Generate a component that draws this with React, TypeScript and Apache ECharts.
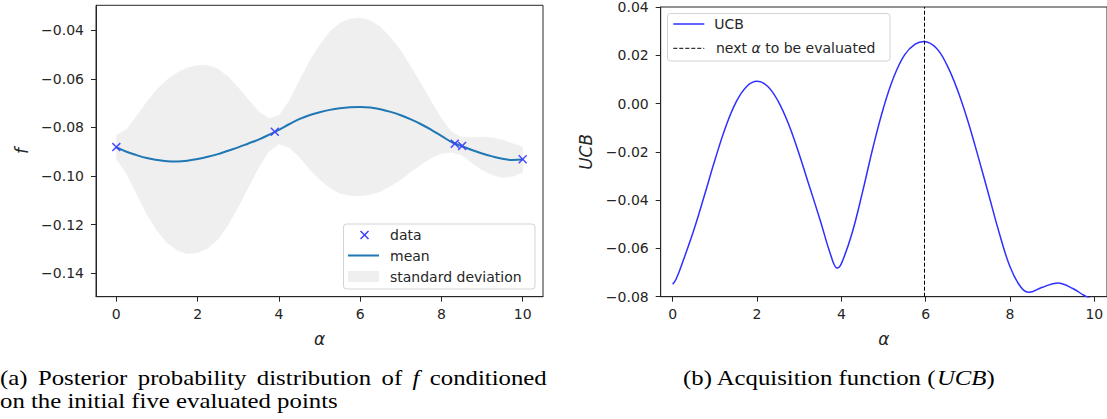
import React, { useEffect, useRef } from "react";
import * as echarts from "echarts";

// ---------- Left panel: GP posterior ----------
const meanAlpha = [0, 0.25, 0.5, 0.75, 1, 1.25, 1.5, 1.75, 2, 2.25, 2.5, 2.75, 3, 3.25, 3.5, 3.75, 4, 4.25, 4.5, 4.75, 5, 5.25, 5.5, 5.75, 6, 6.25, 6.5, 6.75, 7, 7.25, 7.5, 7.75, 8, 8.25, 8.5, 8.75, 9, 9.25, 9.5, 9.75, 10];
const meanF = [-0.0881, -0.09, -0.0914, -0.0926, -0.0934, -0.0939, -0.094, -0.0937, -0.093, -0.0921, -0.091, -0.0896, -0.0882, -0.0866, -0.085, -0.0831, -0.081, -0.0787, -0.0766, -0.075, -0.0738, -0.0728, -0.0721, -0.0717, -0.0716, -0.0718, -0.0725, -0.0736, -0.075, -0.0767, -0.0787, -0.081, -0.0835, -0.086, -0.0877, -0.0893, -0.0907, -0.0919, -0.0929, -0.0934, -0.0932];
const stdHalf = [0.005, 0.009, 0.016, 0.023, 0.029, 0.0335, 0.0365, 0.0382, 0.0385, 0.0376, 0.035, 0.0305, 0.0245, 0.018, 0.0115, 0.0068, 0.0058, 0.0095, 0.0155, 0.022, 0.0275, 0.032, 0.035, 0.0363, 0.0366, 0.0358, 0.0338, 0.0305, 0.0265, 0.0215, 0.0165, 0.0115, 0.0072, 0.0042, 0.0036, 0.0052, 0.0068, 0.0076, 0.0077, 0.0068, 0.0052];
const dataAlpha = [0, 3.9, 8.33, 8.51, 10];
const dataF = [-0.0881, -0.0818, -0.0867, -0.0876, -0.0931];
const leftXTicks = [0, 2, 4, 6, 8, 10];
const leftYTicks = [-0.14, -0.12, -0.1, -0.08, -0.06, -0.04];

// ---------- Right panel: UCB ----------
const ucbAlpha = [0, 0.08, 0.25, 0.5, 0.75, 1, 1.25, 1.5, 1.75, 2, 2.25, 2.5, 2.75, 3, 3.25, 3.5, 3.75, 3.9, 4, 4.25, 4.5, 4.75, 5, 5.25, 5.5, 5.75, 5.96, 6.25, 6.5, 6.75, 7, 7.25, 7.5, 7.75, 8, 8.25, 8.45, 8.75, 9.13, 9.5, 9.75, 10];
const ucbValues = [-0.0748, -0.0728, -0.065, -0.0525, -0.0382, -0.0235, -0.01, 0.0005, 0.007, 0.0092, 0.0072, 0.001, -0.0086, -0.021, -0.0347, -0.0484, -0.0628, -0.0681, -0.0663, -0.0539, -0.0368, -0.0182, -0.0017, 0.0113, 0.0202, 0.0246, 0.0257, 0.023, 0.0161, 0.0058, -0.0072, -0.0223, -0.0381, -0.0539, -0.0676, -0.0759, -0.0782, -0.0762, -0.0743, -0.0767, -0.0794, -0.0815];
const nextAlpha = 5.96;
const rightXTicks = [0, 2, 4, 6, 8, 10];
const rightYTicks = [-0.08, -0.06, -0.04, -0.02, 0, 0.02, 0.04];

const INK = "#262626";
const SANS = "DejaVu Sans";
const SERIF = "Liberation Serif";

function fmtNum(v: number): string {
  if (Math.abs(v) < 1e-9) return "0.00";
  return (v < 0 ? "\u2212" : "") + Math.abs(v).toFixed(2);
}

function makeXAxis(gridIndex: number, min: number, max: number, ticks: number[]) {
  return {
    gridIndex,
    type: "value",
    min,
    max,
    axisLine: { show: true, onZero: false, lineStyle: { color: INK, width: 1 } },
    axisTick: { show: true, inside: false, length: 5, customValues: ticks, lineStyle: { color: INK, width: 1 } },
    axisLabel: { customValues: ticks, margin: 10, fontFamily: SANS, fontSize: 14, color: INK, formatter: (v: number) => String(Math.round(v)) },
    splitLine: { show: false },
    name: "α",
    nameLocation: "middle",
    nameGap: 34,
    nameTextStyle: { fontFamily: SANS, fontStyle: "italic", fontSize: 17, color: INK },
  };
}

function makeYAxis(gridIndex: number, min: number, max: number, ticks: number[], name: string) {
  return {
    gridIndex,
    type: "value",
    min,
    max,
    axisLine: { show: true, onZero: false, lineStyle: { color: INK, width: 1 } },
    axisTick: { show: true, inside: false, length: 5, customValues: ticks, lineStyle: { color: INK, width: 1 } },
    axisLabel: { customValues: ticks, margin: 12, fontFamily: SANS, fontSize: 14, color: INK, formatter: fmtNum },
    splitLine: { show: false },
    name,
    nameLocation: "middle",
    nameGap: 66,
    nameTextStyle: { fontFamily: SANS, fontStyle: "italic", fontSize: 17, color: INK },
  };
}

function txt(x: number, y: number, text: string, opts: any = {}) {
  return {
    type: "text",
    x,
    y,
    z: 101,
    scaleX: opts.scaleX || 1,
    style: {
      text,
      fill: opts.fill || INK,
      font: opts.font || `14px "${SANS}"`,
      align: "left",
      verticalAlign: "middle",
      textAlign: "left",
      textVerticalAlign: "middle",
      rich: opts.rich,
    },
  };
}

export default function App() {
  const ref = useRef<HTMLDivElement>(null);
  useEffect(() => {
    if (!ref.current) return;
    const chart = echarts.init(ref.current, null, { renderer: "svg" });
    const CAP = 21;
    const serifRich = {
      n: { fontFamily: SERIF, fontSize: CAP, color: "#000" },
      i: { fontFamily: SERIF, fontSize: CAP, fontStyle: "italic", color: "#000" },
      s: { fontFamily: SERIF, fontSize: CAP, color: "#000", width: 8.8 },
    };
    const option: any = {
      animation: false,
      backgroundColor: "#ffffff",
      grid: [
        { left: 96, top: 5.3, width: 447, height: 291.4, show: true, borderColor: INK, borderWidth: 1, backgroundColor: "transparent" },
        { left: 660.7, top: 5.3, width: 447, height: 291.4, show: true, borderColor: INK, borderWidth: 1, backgroundColor: "transparent" },
      ],
      xAxis: [makeXAxis(0, -0.5, 10.5, leftXTicks), makeXAxis(1, -0.284, 10.3, rightXTicks)],
      yAxis: [makeYAxis(0, -0.1496, -0.0298, leftYTicks, "f"), makeYAxis(1, -0.08, 0.04, rightYTicks, "UCB")],
      series: [
        {
          type: "custom",
          name: "standard deviation",
          xAxisIndex: 0,
          yAxisIndex: 0,
          z: 1,
          silent: true,
          data: [[0, meanF[0]]],
          renderItem: (_params: any, api: any) => {
            const pts: number[][] = [];
            for (let i = 0; i < meanAlpha.length; i++) pts.push(api.coord([meanAlpha[i], meanF[i] + stdHalf[i]]));
            for (let i = meanAlpha.length - 1; i >= 0; i--) pts.push(api.coord([meanAlpha[i], meanF[i] - stdHalf[i]]));
            return { type: "polygon", shape: { points: pts }, style: { fill: "#efefef", stroke: "#efefef", lineWidth: 0.5 } };
          },
        },
        {
          type: "line",
          name: "mean",
          xAxisIndex: 0,
          yAxisIndex: 0,
          z: 3,
          data: meanAlpha.map((a, i) => [a, meanF[i]]),
          smooth: 0.4,
          symbol: "none",
          lineStyle: { color: "#1f77b4", width: 2 },
        },
        {
          type: "scatter",
          name: "data",
          xAxisIndex: 0,
          yAxisIndex: 0,
          z: 4,
          data: dataAlpha.map((a, i) => [a, dataF[i]]),
          symbol: "path://M0,1.2L1.2,0L5,3.8L8.8,0L10,1.2L6.2,5L10,8.8L8.8,10L5,6.2L1.2,10L0,8.8L3.8,5Z",
          symbolSize: 9,
          itemStyle: { color: "#3b3bff", opacity: 0.9 },
        },
        {
          type: "line",
          name: "UCB",
          xAxisIndex: 1,
          yAxisIndex: 1,
          z: 3,
          clip: true,
          data: ucbAlpha.map((a, i) => [a, ucbValues[i]]),
          smooth: 0.4,
          symbol: "none",
          lineStyle: { color: "#2f2fff", width: 1.5 },
          markLine: {
            silent: true,
            symbol: ["none", "none"],
            label: { show: false },
            lineStyle: { color: "#000", width: 1, type: [4, 2] },
            data: [{ xAxis: nextAlpha }],
          },
        },
      ],
      graphic: [
        // left legend
        { type: "rect", z: 100, shape: { x: 343.5, y: 224, width: 191.5, height: 65, r: 3 }, style: { fill: "rgba(255,255,255,0.85)", stroke: "#d3d3d3", lineWidth: 1 } },
        { type: "line", z: 101, shape: { x1: 360.5, y1: 231, x2: 368.5, y2: 239 }, style: { stroke: "#3b3bff", lineWidth: 1.5 } },
        { type: "line", z: 101, shape: { x1: 368.5, y1: 231, x2: 360.5, y2: 239 }, style: { stroke: "#3b3bff", lineWidth: 1.5 } },
        txt(390, 235, "data"),
        { type: "line", z: 101, shape: { x1: 348, y1: 255.5, x2: 379, y2: 255.5 }, style: { stroke: "#1f77b4", lineWidth: 2 } },
        txt(390, 255.5, "mean"),
        { type: "rect", z: 101, shape: { x: 348, y: 271, width: 31, height: 11 }, style: { fill: "#efefef" } },
        txt(390, 276.5, "standard deviation"),
        // right legend
        { type: "rect", z: 100, shape: { x: 667.5, y: 13.5, width: 222.5, height: 47.5, r: 3 }, style: { fill: "rgba(255,255,255,0.85)", stroke: "#d3d3d3", lineWidth: 1 } },
        { type: "line", z: 101, shape: { x1: 673.3, y1: 24, x2: 704.3, y2: 24 }, style: { stroke: "#2f2fff", lineWidth: 1.5 } },
        txt(714.3, 24, "UCB"),
        { type: "line", z: 101, shape: { x1: 673.3, y1: 48.3, x2: 704.3, y2: 48.3 }, style: { stroke: "#000", lineWidth: 1, lineDash: [4, 2] } },
        txt(716, 48.3, "{n|next }{i|α}{n| to be evaluated}", {
          rich: {
            n: { fontFamily: SANS, fontSize: 14, color: INK },
            i: { fontFamily: SANS, fontSize: 14, fontStyle: "italic", color: INK },
          },
        }),
        // captions
        txt(0, 378, "{n|(a)}{s| }{n|Posterior}{s| }{n|probability}{s| }{n|distribution}{s| }{n|of}{s| }{i|f}{s| }{n|conditioned}", { rich: serifRich, fill: "#000", scaleX: 1.18 }),
        txt(0, 401, "{n|on the initial five evaluated points}", { rich: serifRich, fill: "#000", scaleX: 1.18 }),
        txt(683, 378, "{n|(b) Acquisition function (}{i|UCB}{n|)}", { rich: serifRich, fill: "#000", scaleX: 1.18 }),
      ],
    };
    chart.setOption(option);
    return () => chart.dispose();
  }, []);
  return (
    <div
      ref={ref}
      style={{ position: "fixed", left: 0, top: 0, width: 1107, height: 419, background: "#fff" }}
    />
  );
}
